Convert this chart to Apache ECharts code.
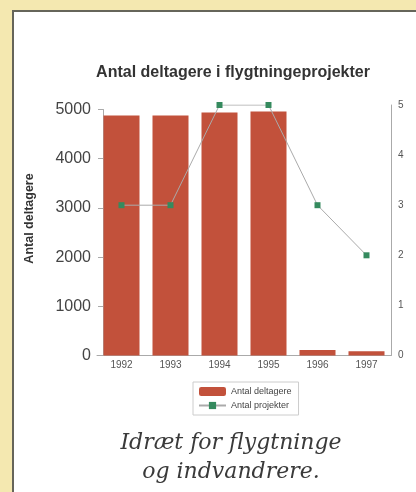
<!DOCTYPE html>
<html>
<head>
<meta charset="utf-8">
<script src="https://cdn.jsdelivr.net/npm/echarts@6/dist/echarts.min.js"></script>
<style>
  html, body { margin: 0; padding: 0; background: #f4e8b0; }
  #chart { width: 416px; height: 492px; }
</style>
</head>
<body>
<div id="chart"></div>
<script>
var years = ['1992', '1993', '1994', '1995', '1996', '1997'];
var deltagere = [4880, 4880, 4940, 4960, 110, 85];
var projekter = [3, 3, 5, 5, 3, 2];

var chart = echarts.init(document.getElementById('chart'));

var option = {
    backgroundColor: '#f4e8b0',
    graphic: [
        {
            type: 'rect',
            z: -10,
            shape: { x: 13, y: 11, width: 420, height: 500 },
            style: { fill: '#ffffff', stroke: '#66655a', lineWidth: 2 }
        }
    ],
    title: [
        {
            text: 'Antal deltagere i flygtningeprojekter',
            left: 228,
            top: 60,
            textAlign: 'center',
            textStyle: { fontFamily: 'Liberation Sans', fontSize: 16, fontWeight: 'bold', color: '#333' }
        },
        {
            text: 'Idræt for flygtninge\nog indvandrere.',
            left: 226,
            top: 424,
            textAlign: 'center',
            textStyle: { fontFamily: 'DejaVu Serif', fontStyle: 'italic', fontWeight: 'normal', fontSize: 22, lineHeight: 29, color: '#3a3a3a' }
        }
    ],
    legend: {
        orient: 'vertical',
        left: 193,
        top: 382,
        padding: [5, 7, 5, 5],
        itemGap: 5,
        itemWidth: 27,
        itemHeight: 9,
        borderColor: '#cccccc',
        borderWidth: 1,
        textStyle: { fontFamily: 'Liberation Sans', fontSize: 9, color: '#444' },
        data: ['Antal deltagere', 'Antal projekter']
    },
    grid: [
        { left: 97, right: 25, top: 109.5, bottom: 136.5 },
        { left: 97, right: 25, top: 105, bottom: 136.5 }
    ],
    xAxis: [
        {
            type: 'category',
            gridIndex: 0,
            data: years,
            axisLine: { lineStyle: { color: '#aaaaaa' } },
            axisTick: { inside: true, length: 5, lineStyle: { color: '#aaaaaa' } },
            axisLabel: { fontFamily: 'Liberation Sans', fontSize: 10, color: '#555', margin: 5 }
        },
        {
            type: 'category',
            gridIndex: 1,
            data: years,
            show: false
        }
    ],
    yAxis: [
        {
            type: 'value',
            gridIndex: 0,
            min: 0,
            max: 5000,
            interval: 1000,
            offset: -6,
            name: 'Antal deltagere',
            nameLocation: 'middle',
            nameGap: 67,
            nameTextStyle: { fontFamily: 'Liberation Sans', fontSize: 12.5, fontWeight: 'bold', color: '#333', padding: [0, 0, 0, 28] },
            axisLine: { show: true, lineStyle: { color: '#aaaaaa' } },
            axisTick: { show: true, length: 5, lineStyle: { color: '#aaaaaa' } },
            axisLabel: {
                fontFamily: 'Liberation Sans', fontSize: 16, color: '#444', margin: 12,
                formatter: function (v) { return String(v); }
            },
            splitLine: { show: false }
        },
        {
            type: 'value',
            gridIndex: 1,
            position: 'right',
            min: 0,
            max: 5,
            interval: 1,
            axisLine: { show: true, lineStyle: { color: '#aaaaaa' } },
            axisTick: { show: false },
            axisLabel: { fontFamily: 'Liberation Sans', fontSize: 10, color: '#555', margin: 7 },
            splitLine: { show: false }
        }
    ],
    series: [
        {
            name: 'Antal deltagere',
            type: 'bar',
            xAxisIndex: 0,
            yAxisIndex: 0,
            barWidth: 36,
            itemStyle: { color: '#c2513b' },
            data: deltagere
        },
        {
            name: 'Antal projekter',
            type: 'line',
            xAxisIndex: 1,
            yAxisIndex: 1,
            symbol: 'rect',
            symbolSize: 6,
            itemStyle: { color: '#358a5e' },
            lineStyle: { color: '#aaaaaa', width: 1 },
            data: projekter
        }
    ]
};

chart.setOption(option);
</script>
</body>
</html>
